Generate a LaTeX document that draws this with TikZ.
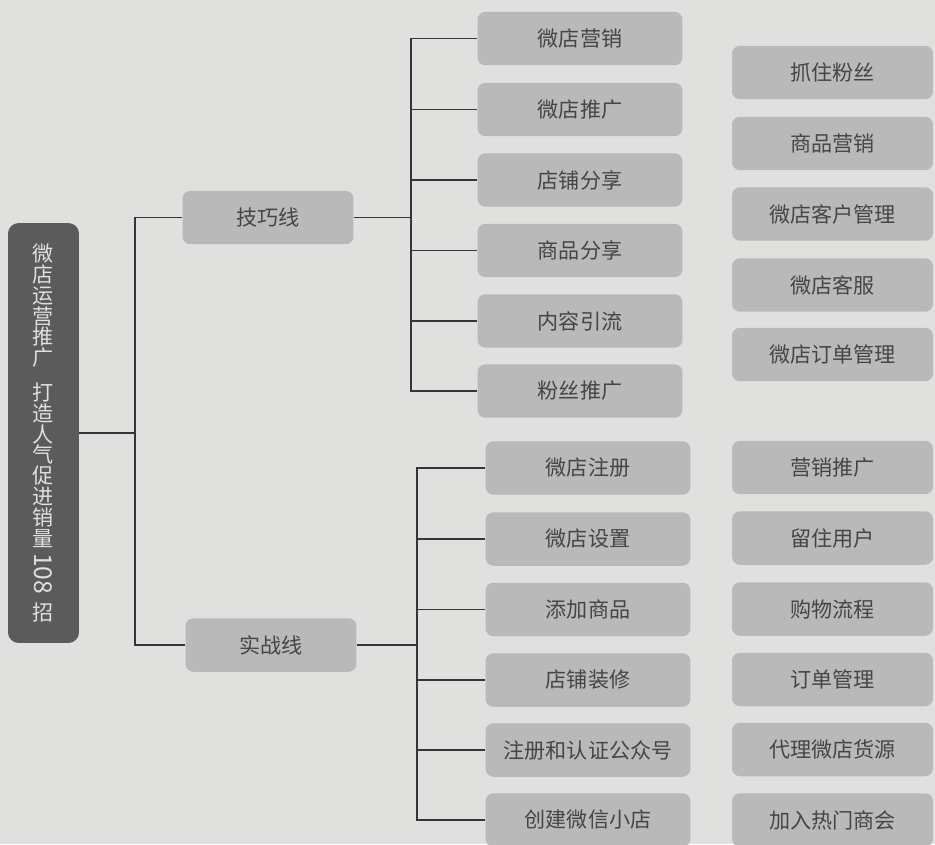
\documentclass[tikz,border=0pt]{standalone}
\usepackage{fontspec}
\usepackage{graphicx}
\usepackage{tikz}
\newfontfamily\cjk{Noto Sans CJK SC}
\definecolor{pagegray}{HTML}{E0E0DE}
\definecolor{boxgray}{HTML}{B9B9B9}
\definecolor{rootgray}{HTML}{5B5B5B}
\definecolor{textgray}{HTML}{454545}
\definecolor{linegray}{HTML}{353535}
\tikzset{
    leafbox/.style={rectangle, rounded corners=4.5pt, fill=boxgray, text=textgray,
        font=\cjk\fontsize{12}{14}\selectfont, inner sep=0pt, minimum height=1.07cm},
    midbox/.style={leafbox, minimum width=4.1cm},
    sidebox/.style={leafbox, minimum width=4.02cm},
    linebox/.style={leafbox, minimum width=3.42cm},
    rootbox/.style={rectangle, rounded corners=6pt, fill=rootgray, text=pagegray,
        font=\cjk\fontsize{12}{11.85}\selectfont, align=center, inner sep=0pt,
        minimum width=1.42cm, minimum height=8.4cm},
    branch/.style={draw=linegray, line width=0.8pt}
}
\begin{document}
\begin{tikzpicture}[x=0.02cm, y=-0.02cm]
    % page
    \fill[pagegray] (0,0) rectangle (935,844);
    \useasboundingbox (0,0) rectangle (935,844);
    \clip (0,0) rectangle (935,844);

    % Root
    \node[rootbox] (root) at (43.5,433) {微\\店\\运\\营\\推\\广\\[8pt]打\\造\\人\\气\\促\\进\\销\\量\\[-8pt]{\fontsize{14}{14}\selectfont\rotatebox{-90}{108}}\\[4pt]招};

    % Two lines
    \node[linebox] (jq) at (268,217.5) {技巧线};
    \node[linebox] (sz) at (271,645) {实战线};
    \coordinate (trunk) at (135,433);
    \draw[branch] (root.east) -- (trunk);
    \draw[branch] (trunk) |- (jq.west);
    \draw[branch] (trunk) |- (sz.west);

    % Skills line
    \node[midbox] (jq1) at (580,38.5) {微店营销};
    \node[midbox] (jq2) at (580,109.5) {微店推广};
    \node[midbox] (jq3) at (580,180) {店铺分享};
    \node[midbox] (jq4) at (580,250.5) {商品分享};
    \node[midbox] (jq5) at (580,321) {内容引流};
    \node[midbox] (jq6) at (580,391) {粉丝推广};
    \coordinate (jqbus) at (411,217.5);
    \draw[branch] (jq.east) -- (jqbus);
    \draw[branch] (jqbus) |- (jq1.west);
    \draw[branch] (jqbus) |- (jq2.west);
    \draw[branch] (jqbus) |- (jq3.west);
    \draw[branch] (jqbus) |- (jq4.west);
    \draw[branch] (jqbus) |- (jq5.west);
    \draw[branch] (jqbus) |- (jq6.west);

    % Practice line
    \node[midbox] (sz1) at (588,468) {微店注册};
    \node[midbox] (sz2) at (588,539) {微店设置};
    \node[midbox] (sz3) at (588,609.5) {添加商品};
    \node[midbox] (sz4) at (588,680) {店铺装修};
    \node[midbox] (sz5) at (588,750) {注册和认证公众号};
    \node[midbox] (sz6) at (588,820) {创建微信小店};
    \coordinate (szbus) at (417,645);
    \draw[branch] (sz.east) -- (szbus);
    \draw[branch] (szbus) |- (sz1.west);
    \draw[branch] (szbus) |- (sz2.west);
    \draw[branch] (szbus) |- (sz3.west);
    \draw[branch] (szbus) |- (sz4.west);
    \draw[branch] (szbus) |- (sz5.west);
    \draw[branch] (szbus) |- (sz6.west);

    % Right column
    \node[sidebox] (r1) at (832.5,72.5) {抓住粉丝};
    \node[sidebox] (r2) at (832.5,143.5) {商品营销};
    \node[sidebox] (r3) at (832.5,214) {微店客户管理};
    \node[sidebox] (r4) at (832.5,285) {微店客服};
    \node[sidebox] (r5) at (832.5,354.5) {微店订单管理};
    \node[sidebox] (r6) at (832.5,467.5) {营销推广};
    \node[sidebox] (r7) at (832.5,538) {留住用户};
    \node[sidebox] (r8) at (832.5,609) {购物流程};
    \node[sidebox] (r9) at (832.5,679.5) {订单管理};
    \node[sidebox] (r10) at (832.5,749.5) {代理微店货源};
    \node[sidebox] (r11) at (832.5,820) {加入热门商会};
\end{tikzpicture}
\end{document}
